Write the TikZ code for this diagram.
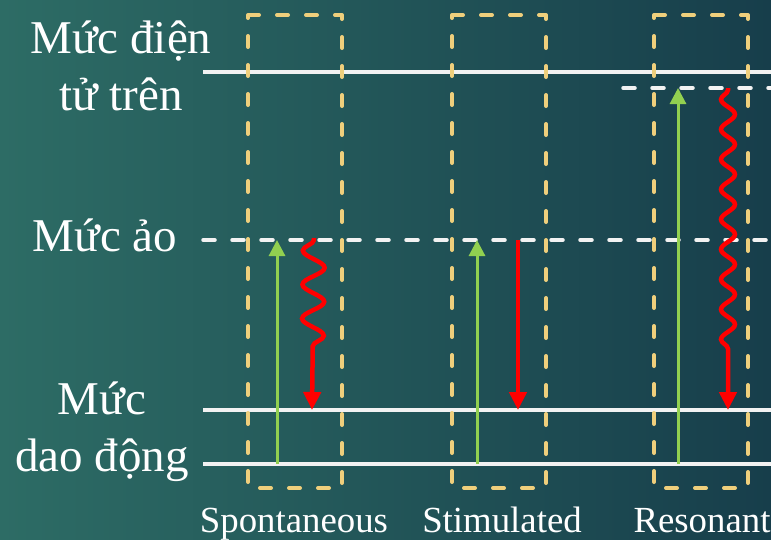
\documentclass[tikz,border=0pt]{standalone}
\usepackage{fontspec}
\setmainfont{Liberation Serif}
\usepackage{xcolor}
\usepackage{tikz}
\usetikzlibrary{arrows.meta,decorations.pathmorphing}
\definecolor{bgleft}{HTML}{2D6C65}
\definecolor{bgright}{HTML}{173E4B}
\definecolor{levelwhite}{HTML}{F2F2F2}
\definecolor{boxyellow}{HTML}{EFCF7C}
\definecolor{pumpgreen}{HTML}{92D050}
\definecolor{emitred}{HTML}{FF0000}
\tikzset{
  lvlline/.style={levelwhite, line width=3.5pt},
  lvldash/.style={lvlline, dash pattern=on 12pt off 17pt, line cap=round},
  procbox/.style={boxyellow, line width=4pt, dash pattern=on 11pt off 18pt, line cap=round, line join=round},
  uparrow/.style={pumpgreen, line width=3pt, -{Triangle[width=16pt,length=16pt]}},
  downarrow/.style={emitred, line width=4.5pt, -{Triangle[width=17pt,length=18pt]}},
  wavearrow/.style={downarrow, decorate, decoration={snake, mirror, amplitude=#1, segment length=34pt, pre length=2pt, post length=55pt}},
  lvllabel/.style={text=white, align=center, font=\fontsize{47}{57}\selectfont, inner sep=0pt},
  proclabel/.style={text=white, font=\fontsize{36.8}{40}\selectfont, inner sep=0pt, anchor=base},
}

\begin{document}
\begin{tikzpicture}[x=1pt, y=-1pt]
  \shade[left color=bgleft, right color=bgright] (0,0) rectangle (771,539);
  \useasboundingbox (0,0) rectangle (771,539);

  % energy levels
  \coordinate (upper-l) at (203,72);   \coordinate (upper-r) at (771,72);
  \coordinate (uvirt-l) at (623,88);   \coordinate (uvirt-r) at (771,88);
  \coordinate (virt-l) at (203,240);   \coordinate (virt-r) at (771,240);
  \coordinate (vib1-l) at (203,410);   \coordinate (vib1-r) at (771,410);
  \coordinate (vib0-l) at (203,464);   \coordinate (vib0-r) at (771,464);
  \draw[lvlline] (upper-l) -- (upper-r);
  \draw[lvldash] (uvirt-l) -- (uvirt-r);
  \draw[lvldash] (virt-l) -- (virt-r);
  \draw[lvlline] (vib1-l) -- (vib1-r);
  \draw[lvlline] (vib0-l) -- (vib0-r);

  % level names
  \node[lvllabel] (lbl-upper) at (121,66) {Mức điện\\tử trên};
  \node[lvllabel] (lbl-virt) at (105,235) {Mức ảo};
  \node[lvllabel] (lbl-vib) at (102,432) {Mức\\dao động};

  % process boxes
  \draw[procbox] (248,15) -- (342,15) -- (342,488) -- (248,488) -- cycle;
  \draw[procbox] (452,15) -- (546,15) -- (546,488) -- (452,488) -- cycle;
  \draw[procbox] (654,15) -- (748,15) -- (748,488) -- (654,488) -- cycle;

  % spontaneous
  \coordinate (sp-up0) at (277,464);  \coordinate (sp-up1) at (277,240);
  \coordinate (sp-dn0) at (314,238);  \coordinate (sp-dn1) at (312,410);
  \draw[uparrow] (sp-up0) -- (sp-up1);
  \draw[wavearrow=11pt] (sp-dn0) -- (sp-dn1);

  % stimulated
  \coordinate (st-up0) at (477,464);  \coordinate (st-up1) at (477,240);
  \coordinate (st-dn0) at (518,240);  \coordinate (st-dn1) at (518,410);
  \draw[uparrow] (st-up0) -- (st-up1);
  \draw[downarrow] (st-dn0) -- (st-dn1);

  % resonant
  \coordinate (rs-up0) at (678,464);  \coordinate (rs-up1) at (678,88);
  \coordinate (rs-dn0) at (728,88);   \coordinate (rs-dn1) at (728,410);
  \draw[uparrow] (rs-up0) -- (rs-up1);
  \draw[wavearrow=7pt, decoration={segment length=30pt}] (rs-dn0) -- (rs-dn1);

  % process names
  \node[proclabel] (lbl-sp) at (294,532) {Spontaneous};
  \node[proclabel] (lbl-st) at (502,532) {Stimulated};
  \node[proclabel] (lbl-rs) at (702,532) {Resonant};
\end{tikzpicture}
\end{document}
